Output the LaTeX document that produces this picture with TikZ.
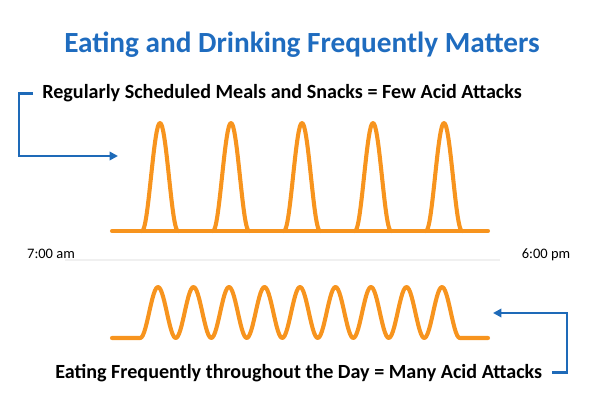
\documentclass[tikz,border=0pt]{standalone}
\usepackage{fontspec}
\setmainfont{Carlito}
\usetikzlibrary{arrows.meta}
\definecolor{titleblue}{RGB}{31,108,191}
\definecolor{arrowblue}{RGB}{30,106,184}
\definecolor{waveorange}{RGB}{247,148,30}
\tikzset{
  wave/.style={waveorange,line width=2.9pt,line join=round,line cap=round},
  bracket/.style={arrowblue,line width=1.8pt,-{Triangle[length=6pt,width=6pt]}},
  caption/.style={anchor=base west,inner sep=0pt,font=\fontsize{14.3}{16}\selectfont\bfseries},
  timelabel/.style={anchor=base,inner sep=0pt,font=\fontsize{10.3}{12}\selectfont}
}
\begin{document}
\begin{tikzpicture}[x=0.025cm,y=-0.025cm]
  % Page: 600 x 394 px, y grows downward.
  \useasboundingbox (0,0) rectangle (600,394);

  \node[anchor=base,inner sep=0pt,text=titleblue,
        font=\fontsize{20.8}{25}\selectfont\bfseries] (title) at (302,53)
    {Eating and Drinking Frequently Matters};

  \node[caption] (toplabel) at (42,99)
    {Regularly Scheduled Meals and Snacks = Few Acid Attacks};
  \node[caption] (botlabel) at (55,378)
    {Eating Frequently throughout the Day = Many Acid Attacks};

  % Few acid attacks.
  \draw[wave] (112,231) -- (488,231);
  \foreach \c in {160,231,302,373,444}{
    \pgfmathsetmacro{\a}{\c-18}
    \pgfmathsetmacro{\b}{\c+18}
    \draw[wave] plot[domain=\a:\b,samples=40]
      (\x,{231-54*(1-cos((\x-\a)*10))});
  }

  % Many acid attacks.
  \draw[wave] (112,338) -- (140.25,338)
    -- plot[domain=140.25:459.75,samples=240]
      (\x,{338-25.5*(1-cos((\x-140.25)*10.1408))})
    -- (488,338);

  % Time of day.
  \draw[black!6,line width=1.1pt] (65,260) -- (500,260);
  \node[timelabel] (morning) at (51,258) {7:00 am};
  \node[timelabel] (evening) at (546,258) {6:00 pm};

  % Pointers.
  \coordinate (topcorner) at (19,156);
  \coordinate (toptip) at (118,156);
  \draw[bracket] ([xshift=-9*0.025cm]toplabel.west) -| (topcorner) -- (toptip);

  \coordinate (botcorner) at (567,313);
  \coordinate (bottip) at (493,313);
  \draw[bracket] ([xshift=10*0.025cm]botlabel.east) -| (botcorner) -- (bottip);
\end{tikzpicture}
\end{document}
